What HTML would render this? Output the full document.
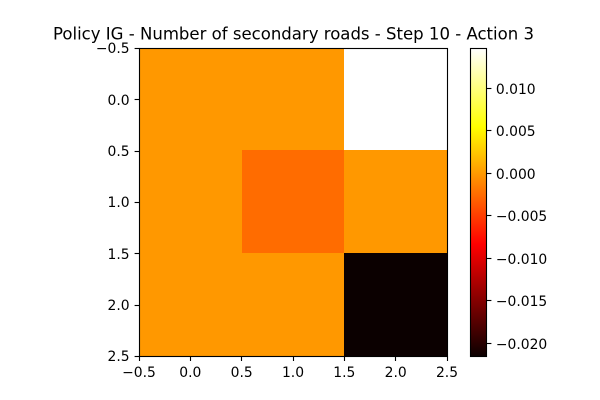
<!DOCTYPE html>
<html>
<head>
<meta charset="utf-8">
<title>Policy IG - Number of secondary roads - Step 10 - Action 3</title>
<style>
html,body{margin:0;padding:0;background:#fff;width:600px;height:400px;overflow:hidden}
svg{display:block}
text{font-family:"DejaVu Sans",sans-serif;fill:#000}
</style>
</head>
<body>
<svg id="chart" xmlns="http://www.w3.org/2000/svg" width="600" height="400" viewBox="0 0 600 400">
<defs>
<linearGradient id="hot" x1="0" y1="1" x2="0" y2="0">
<stop offset="0" stop-color="rgb(11,0,0)"/>
<stop offset="0.365" stop-color="rgb(255,0,0)"/>
<stop offset="0.746" stop-color="rgb(255,255,0)"/>
<stop offset="1" stop-color="rgb(255,255,255)"/>
</linearGradient>
</defs>
<text x="293.5" y="39.5" font-size="16.67" text-anchor="middle" textLength="481" lengthAdjust="spacingAndGlyphs">Policy IG - Number of secondary roads - Step 10 - Action 3</text>
<g id="cells"></g>
<g id="axes"></g>
<g id="cbar"></g>
</svg>
<script>
const rowLabels = [0, 1, 2];
const colLabels = [0, 1, 2];
const row0 = [0, 0, 0.0148];
const row1 = [0, -0.0024, 0];
const row2 = [0, 0, -0.0215];
const xTicks = [-0.5, 0, 0.5, 1, 1.5, 2, 2.5];
const yTicks = [-0.5, 0, 0.5, 1, 1.5, 2, 2.5];
const cbarTicks = [0.010, 0.005, 0, -0.005, -0.010, -0.015, -0.020];

const matrix = [row0, row1, row2];
const all = matrix.flat();
const vmin = Math.min(...all);
const vmax = Math.max(...all);
const NS = 'http://www.w3.org/2000/svg';
const L = 139, R = 447, T = 47.8, B = 355.8;
const CL = 470.5, CR = 486.5;
function sx(v) { return L + (v + 0.5) / colLabels.length * (R - L); }
function sy(v) { return T + (v + 0.5) / rowLabels.length * (B - T); }
function cy(v) { return B - (v - vmin) / (vmax - vmin) * (B - T); }
function snap(v) { return Math.floor(v) + 0.5; }
function clamp(v) { return Math.max(0, Math.min(1, v)); }
function hot(v) {
  const f = (v - vmin) / (vmax - vmin);
  const r = 0.0416 + (1 - 0.0416) * clamp(f / 0.365);
  const g = clamp((f - 0.365) / (0.746 - 0.365));
  const b = clamp((f - 0.746) / (1 - 0.746));
  return 'rgb(' + Math.round(r * 255) + ',' + Math.round(g * 255) + ',' + Math.round(b * 255) + ')';
}
function make(tag, attrs, parent) {
  const el = document.createElementNS(NS, tag);
  for (const k in attrs) el.setAttribute(k, attrs[k]);
  parent.appendChild(el);
  return el;
}
function fmt(v, d) {
  const s = Math.abs(v).toFixed(d);
  return (v < 0 ? '\u2212' : '') + s;
}
const cellsG = document.getElementById('cells');
const axesG = document.getElementById('axes');
const cbarG = document.getElementById('cbar');

rowLabels.forEach(function (r, i) {
  colLabels.forEach(function (c, j) {
    const x0 = Math.round(sx(c - 0.5));
    const x1 = Math.round(sx(c + 0.5));
    const y0 = Math.round(sy(r - 0.5));
    const y1 = Math.round(sy(r + 0.5));
    const rect = make('rect', {
      x: x0, y: y0, width: x1 - x0, height: y1 - y0,
      fill: hot(matrix[i][j]), 'shape-rendering': 'crispEdges'
    }, cellsG);
    
    
  });
});

const frame = make('rect', { x: 139.5, y: 48.5, width: 308, height: 308, fill: 'none', stroke: '#000', 'stroke-width': 1.11 }, axesG);



xTicks.forEach(function (v) {
  const x = snap(sx(v));
  const tick = make('line', { x1: x, x2: x, y1: 356.5, y2: 361, stroke: '#000', 'stroke-width': 1.11 }, axesG);
  
  
  const label = make('text', { x: sx(v), y: 377, 'font-size': 13.89, 'text-anchor': 'middle' }, axesG);
  label.textContent = fmt(v, 1);
  
  
});

yTicks.forEach(function (v) {
  const y = sy(v);
  const tickY = snap(y + 0.6);
  const tick = make('line', { x1: 139.5, x2: 134.6, y1: tickY, y2: tickY, stroke: '#000', 'stroke-width': 1.11 }, axesG);
  
  
  const label = make('text', { x: 129.6, y: Math.round(y + 5.5), 'font-size': 13.89, 'text-anchor': 'end' }, axesG);
  label.textContent = fmt(v, 1);
  
  
});

const bar = make('rect', { x: CL, y: 48.5, width: CR - CL, height: 308, fill: 'url(#hot)' }, cbarG);


const barFrame = make('rect', { x: CL, y: 48.5, width: CR - CL, height: 308, fill: 'none', stroke: '#000', 'stroke-width': 1.11 }, cbarG);



cbarTicks.forEach(function (v) {
  const y = cy(v);
  const tick = make('line', { x1: CR, x2: CR + 4.9, y1: snap(y), y2: snap(y), stroke: '#000', 'stroke-width': 1.11 }, cbarG);
  
  
  const label = make('text', { x: CR + 9.4, y: Math.round(y + 5.5), 'font-size': 13.89, 'text-anchor': 'start' }, cbarG);
  label.textContent = fmt(v, 3);
  
  
});
</script>
</body>
</html>
